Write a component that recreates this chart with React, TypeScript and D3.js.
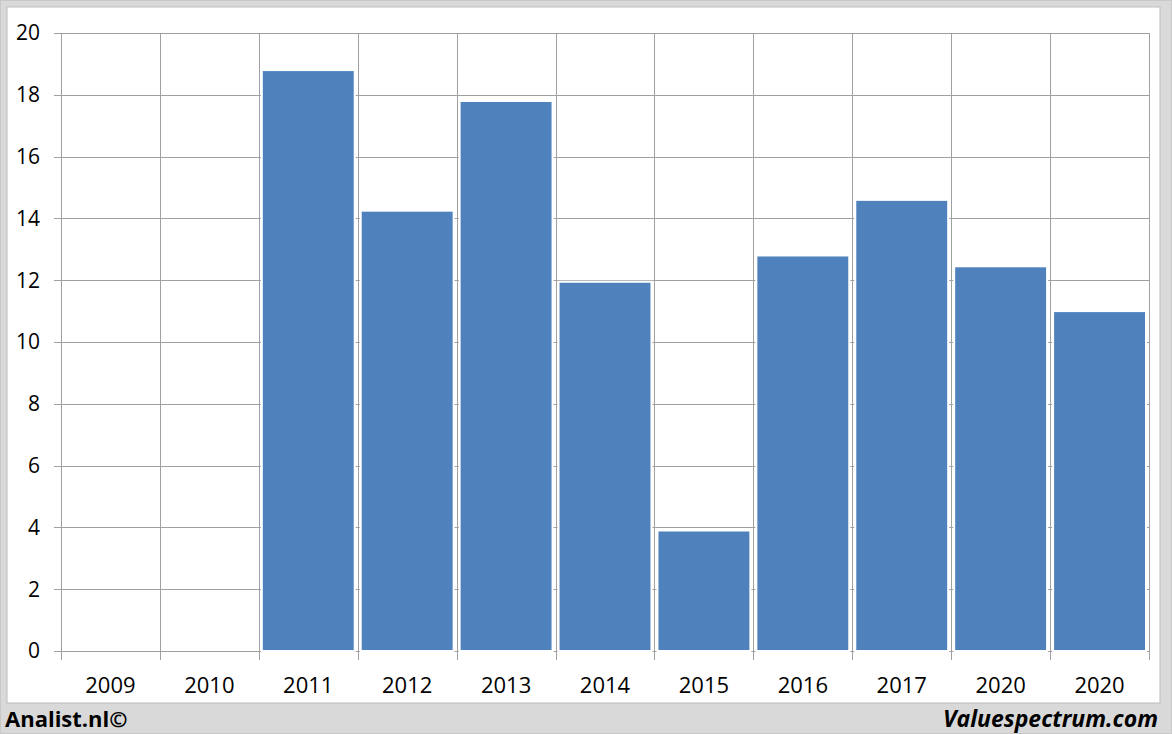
import React, { useRef, useEffect } from 'react';
import * as d3 from 'd3';

const years = ['2009', '2010', '2011', '2012', '2013', '2014', '2015', '2016', '2017', '2020', '2020'];
const values = [0, 0, 18.8, 14.25, 17.8, 11.95, 3.9, 12.8, 14.6, 12.45, 11.0];
const yTicks = [0, 2, 4, 6, 8, 10, 12, 14, 16, 18, 20];

const W = 1172;
const H = 734;

export default function App() {
  const svgRef = useRef<SVGSVGElement>(null);

  useEffect(() => {
    const svg = d3.select(svgRef.current);
    svg.selectAll('*').remove();
    svg.attr('width', W).attr('height', H);

    const font = '"Open Sans", sans-serif';

    // outer frame
    svg.append('rect').attr('x', 0).attr('y', 0).attr('width', W).attr('height', H).attr('fill', '#d9d9d9');
    svg.append('rect').attr('x', 0.5).attr('y', 0.5).attr('width', W - 1).attr('height', H - 1)
      .attr('fill', 'none').attr('stroke', '#c8c8c8');
    svg.append('rect').attr('x', 7).attr('y', 7).attr('width', 1153).attr('height', 696)
      .attr('fill', '#ffffff').attr('stroke', '#bdbdbd').attr('stroke-width', 1);

    const margin = { left: 61, top: 33, right: 1149, bottom: 651 };

    const idx = years.map((_, i) => i);
    const x = d3.scaleBand<number>().domain(idx).range([margin.left, margin.right]).paddingInner(0).paddingOuter(0);
    const y = d3.scaleLinear().domain([0, 20]).range([margin.bottom, margin.top]);

    const g = svg.append('g');

    // horizontal gridlines + left ticks
    g.selectAll('.hgrid').data(yTicks).enter().append('line')
      .attr('x1', margin.left - 7).attr('x2', margin.right)
      .attr('y1', d => Math.round(y(d)) + 0.5).attr('y2', d => Math.round(y(d)) + 0.5)
      .attr('stroke', '#a0a0a0').attr('stroke-width', 1);

    // vertical gridlines (category boundaries) with ticks below axis
    const bounds = idx.map(i => x(i)!).concat([margin.right]);
    g.selectAll('.vgrid').data(bounds).enter().append('line')
      .attr('x1', d => Math.round(d) + 0.5).attr('x2', d => Math.round(d) + 0.5)
      .attr('y1', margin.top).attr('y2', margin.bottom + 9)
      .attr('stroke', '#a0a0a0').attr('stroke-width', 1);

    // bars
    const pad = 3;
    g.selectAll('.bar').data(values.map((v, i) => ({ v, i })).filter(d => d.v > 0)).enter().append('rect')
      .attr('x', d => x(d.i)! + pad)
      .attr('width', x.bandwidth() - pad * 2)
      .attr('y', d => y(d.v))
      .attr('height', d => y(0) - y(d.v))
      .attr('fill', '#4f81bd')
      .attr('stroke', '#ffffff').attr('stroke-width', 2);

    // y labels
    g.selectAll('.ylab').data(yTicks).enter().append('text')
      .attr('x', 40).attr('y', d => y(d)).attr('dy', '0.35em')
      .attr('text-anchor', 'end')
      .attr('font-family', font).attr('font-size', 21).attr('fill', '#000')
      .text(d => d);

    // x labels
    g.selectAll('.xlab').data(idx).enter().append('text')
      .attr('x', d => x(d)! + x.bandwidth() / 2).attr('y', 693)
      .attr('text-anchor', 'middle')
      .attr('font-family', font).attr('font-size', 22).attr('fill', '#000')
      .text(d => years[d]);

    // footer
    svg.append('text').attr('x', 5).attr('y', 727)
      .attr('font-family', font).attr('font-size', 22).attr('font-weight', 'bold').attr('fill', '#000')
      .text('Analist.nl©');
    svg.append('text').attr('x', 1158).attr('y', 727).attr('text-anchor', 'end')
      .attr('font-family', font).attr('font-size', 23).attr('font-weight', 'bold').attr('font-style', 'italic')
      .attr('fill', '#000')
      .text('Valuespectrum.com');
  }, []);

  return (
    <div style={{ position: 'absolute', left: 0, top: 0 }}>
      <svg ref={svgRef} style={{ display: 'block' }} />
    </div>
  );
}
